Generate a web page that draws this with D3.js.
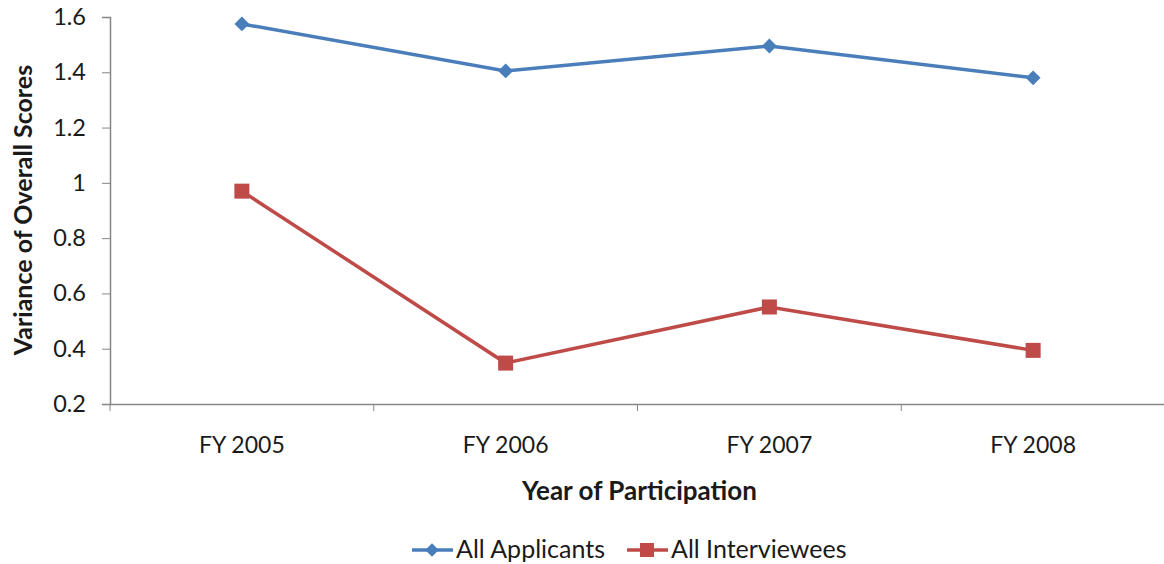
<!DOCTYPE html>
<html>
<head>
    <title>Variance of Overall Scores</title>
    <script src="https://d3js.org/d3.v7.min.js"></script>
    <style>
        body { margin: 0; background: #fff; }
        text { font-family: Lato, "Open Sans", sans-serif; fill: #1a1a1a; }
    </style>
</head>
<body>
    <svg id="chart" width="1164" height="564"></svg>
    <script>
        // data
        const years = ["FY 2005", "FY 2006", "FY 2007", "FY 2008"];
        const applicants = [1.575, 1.405, 1.495, 1.38];
        const interviewees = [0.97, 0.348, 0.551, 0.394];
        const yTicks = [0.2, 0.4, 0.6, 0.8, 1, 1.2, 1.4, 1.6];
        const seriesNames = ["All Applicants", "All Interviewees"];

        const svg = d3.select("#chart");
        const mLeft = 110, mRight = 1165, mTop = 17, mBottom = 404;

        const x = d3.scaleBand().domain(years).range([mLeft, mRight]);
        const y = d3.scaleLinear().domain([0.2, 1.6]).range([mBottom, mTop]);

        const axisColor = "#868686";

        // y axis
        const yAxis = svg.append("g")
            .attr("transform", `translate(${mLeft},0)`)
            .call(d3.axisLeft(y).tickValues(yTicks).tickSize(8).tickPadding(16)
                .tickFormat(d => String(+d.toFixed(1))));
        yAxis.selectAll("text").style("font-size", "23.5px");

        // x axis
        const xAxis = svg.append("g")
            .attr("transform", `translate(0,${mBottom})`)
            .call(d3.axisBottom(x).tickSize(0).tickPadding(33));
        xAxis.selectAll("text").style("font-size", "23px");
        // tick marks between categories
        xAxis.selectAll(".sep")
            .data(years.map(d => x(d)).concat([mRight]))
            .enter().append("line")
            .attr("class", "sep")
            .attr("x1", d => d).attr("x2", d => d)
            .attr("y1", 0).attr("y2", 7)
            .attr("stroke", axisColor);

        svg.selectAll(".domain, .tick line").attr("stroke", axisColor);
        svg.selectAll(".domain").attr("stroke-width", 1.5);

        // axis titles
        svg.append("text")
            .attr("x", (mLeft + mRight) / 2 + 2)
            .attr("y", 500)
            .attr("text-anchor", "middle")
            .style("font-size", "26px")
            .style("font-weight", "bold")
            .text("Year of Participation");

        svg.append("text")
            .attr("transform", "translate(32,210) rotate(-90)")
            .attr("text-anchor", "middle")
            .style("font-size", "25px")
            .style("font-weight", "bold")
            .text("Variance of Overall Scores");

        const cx = d => x(d) + x.bandwidth() / 2;
        const line = d3.line().x((d, i) => cx(years[i])).y(d => y(d));

        const blue = "#4A7EBB", red = "#BE4B48";

        svg.append("path").datum(applicants)
            .attr("d", line).attr("fill", "none")
            .attr("stroke", blue).attr("stroke-width", 3.5);
        svg.selectAll(".diamond").data(applicants).enter()
            .append("path").attr("class", "diamond")
            .attr("d", d3.symbol(d3.symbolSquare, 110))
            .attr("transform", (d, i) => `translate(${cx(years[i])},${y(d)}) rotate(45)`)
            .attr("fill", blue);

        svg.append("path").datum(interviewees)
            .attr("d", line).attr("fill", "none")
            .attr("stroke", red).attr("stroke-width", 3.5);
        svg.selectAll(".square").data(interviewees).enter()
            .append("rect").attr("class", "square")
            .attr("x", (d, i) => cx(years[i]) - 7.5)
            .attr("y", d => y(d) - 7.5)
            .attr("width", 15).attr("height", 15)
            .attr("fill", red);

        // legend
        const legend = svg.append("g").attr("transform", "translate(0,550)");
        const items = [
            { name: seriesNames[0], color: blue, x0: 412, marker: "diamond" },
            { name: seriesNames[1], color: red, x0: 627, marker: "square" }
        ];
        items.forEach(it => {
            legend.append("line")
                .attr("x1", it.x0).attr("x2", it.x0 + 41)
                .attr("y1", 0).attr("y2", 0)
                .attr("stroke", it.color).attr("stroke-width", 3.5);
            if (it.marker === "diamond") {
                legend.append("path")
                    .attr("d", d3.symbol(d3.symbolSquare, 90))
                    .attr("transform", `translate(${it.x0 + 20},0) rotate(45)`)
                    .attr("fill", it.color);
            } else {
                legend.append("rect")
                    .attr("x", it.x0 + 13).attr("y", -7)
                    .attr("width", 14).attr("height", 14)
                    .attr("fill", it.color);
            }
            legend.append("text")
                .attr("x", it.x0 + 44).attr("y", 8)
                .style("font-size", "25px")
                .text(it.name);
        });
    </script>
</body>
</html>
